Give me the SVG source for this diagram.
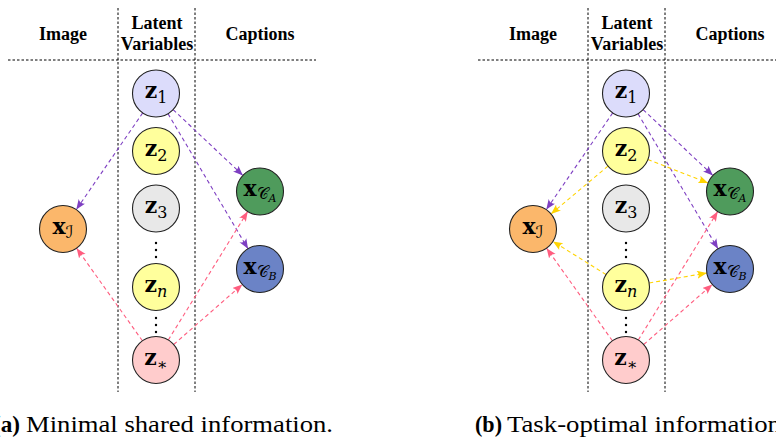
<svg xmlns="http://www.w3.org/2000/svg" width="776" height="439" viewBox="0 0 776 439">
<defs>
<marker id="ap" markerUnits="userSpaceOnUse" markerWidth="11" markerHeight="9" refX="10" refY="4" orient="auto"><path d="M0,0 Q3.5,4 0,8 L10,4 Z" fill="#7e3fc2"/></marker>
<marker id="ak" markerUnits="userSpaceOnUse" markerWidth="11" markerHeight="9" refX="10" refY="4" orient="auto"><path d="M0,0 Q3.5,4 0,8 L10,4 Z" fill="#ff5d7f"/></marker>
<marker id="ay" markerUnits="userSpaceOnUse" markerWidth="11" markerHeight="9" refX="10" refY="4" orient="auto"><path d="M0,0 Q3.5,4 0,8 L10,4 Z" fill="#ffd400"/></marker>
</defs>
<style>
.hd{font-family:"Liberation Serif",serif;font-weight:bold;font-size:18px;fill:#000;text-anchor:middle}
.sep{stroke:#000;stroke-width:1;stroke-dasharray:2.5 2;fill:none}
.nd{stroke:#222;stroke-width:1.1}
.lb{font-family:"DejaVu Serif",serif;font-size:22px;fill:#000;text-anchor:middle}
.bz{font-weight:bold}
.sb{font-size:16px}
.sc{font-family:"DejaVu Sans","DejaVu Serif",serif;font-size:17px;font-style:italic}
.sc2{font-family:"DejaVu Sans","DejaVu Serif",serif;font-size:16px}
.ss{font-size:11px;font-style:italic}
.e{fill:none;stroke-width:1.1;stroke-dasharray:4 3}
.p{stroke:#7e3fc2;marker-end:url(#ap)}
.k{stroke:#ff5d7f;marker-end:url(#ak)}
.y{stroke:#ffd400;marker-end:url(#ay)}
.dt{fill:#000}
.cap{font-family:"Liberation Serif",serif;font-size:23px;fill:#000}
.z1{fill:#dcdcfb}.z2{fill:#ffff9c}.z3{fill:#e8e8e8}.zs{fill:#ffcccc}
.xi{fill:#fbb76b}.xa{fill:#4f9b5c}.xb{fill:#6b83c6}
</style>

<g id="panel-a-frame">
<text class="hd" x="63" y="40">Image</text>
<text class="hd" x="157" y="29">Latent</text>
<text class="hd" x="157" y="50">Variables</text>
<text class="hd" x="260" y="40">Captions</text>
<line class="sep" x1="118" y1="8" x2="118" y2="392"/>
<line class="sep" x1="195" y1="8" x2="195" y2="392"/>
<line class="sep" x1="8" y1="60" x2="316" y2="60"/>
</g>
<g id="panel-b-frame">
<text class="hd" x="533" y="40">Image</text>
<text class="hd" x="627" y="29">Latent</text>
<text class="hd" x="627" y="50">Variables</text>
<text class="hd" x="730" y="40">Captions</text>
<line class="sep" x1="588" y1="8" x2="588" y2="392"/>
<line class="sep" x1="665" y1="8" x2="665" y2="392"/>
<line class="sep" x1="478" y1="60" x2="776" y2="60"/>
</g>

<g id="connectors">
<line class="e p" x1="142.7" y1="112.9" x2="76.3" y2="209.6"/>
<line class="e p" x1="173.1" y1="109.6" x2="242.9" y2="175.4"/>
<line class="e p" x1="168.0" y1="113.7" x2="248.0" y2="248.8"/>
<line class="e k" x1="142.4" y1="340.8" x2="76.6" y2="248.2"/>
<line class="e k" x1="168.3" y1="340.0" x2="247.7" y2="211.5"/>
<line class="e k" x1="173.7" y1="344.5" x2="242.3" y2="284.5"/>

<line class="e p" x1="612.7" y1="112.9" x2="546.3" y2="209.6"/>
<line class="e p" x1="643.1" y1="109.6" x2="712.9" y2="175.4"/>
<line class="e p" x1="638.0" y1="113.7" x2="718.0" y2="248.8"/>
<line class="e k" x1="612.4" y1="340.8" x2="546.6" y2="248.2"/>
<line class="e k" x1="638.3" y1="340.0" x2="717.7" y2="211.5"/>
<line class="e k" x1="643.7" y1="344.5" x2="712.3" y2="284.5"/>
<line class="e y" x1="608.0" y1="166.1" x2="551.0" y2="213.9"/>
<line class="e y" x1="647.9" y1="159.5" x2="708.1" y2="183.0"/>
<line class="e y" x1="606.1" y1="274.6" x2="552.9" y2="241.4"/>
<line class="e y" x1="649.2" y1="283.0" x2="706.9" y2="273.0"/>
</g>

<g id="a-z1"><circle class="nd z1" cx="156" cy="93.5" r="23.5"/><text class="lb" x="156" y="98"><tspan class="bz">z</tspan><tspan class="sb" dy="5">1</tspan></text></g>
<g id="a-z2"><circle class="nd z2" cx="156" cy="151" r="23.5"/><text class="lb" x="156" y="155.5"><tspan class="bz">z</tspan><tspan class="sb" dy="5">2</tspan></text></g>
<g id="a-z3"><circle class="nd z3" cx="156" cy="208.5" r="23.5"/><text class="lb" x="156" y="213"><tspan class="bz">z</tspan><tspan class="sb" dy="5">3</tspan></text></g>
<g id="a-dots1"><circle class="dt" cx="156" cy="243" r="1.2"/><circle class="dt" cx="156" cy="250" r="1.2"/><circle class="dt" cx="156" cy="257" r="1.2"/></g>
<g id="a-zn"><circle class="nd z2" cx="156" cy="287" r="23.5"/><text class="lb" x="156" y="291.5"><tspan class="bz">z</tspan><tspan class="sb" font-style="italic" dy="5">n</tspan></text></g>
<g id="a-dots2"><circle class="dt" cx="156" cy="318" r="1.2"/><circle class="dt" cx="156" cy="325" r="1.2"/><circle class="dt" cx="156" cy="332" r="1.2"/></g>
<g id="a-zstar"><circle class="nd zs" cx="156" cy="360" r="23.5"/><text class="lb" x="156" y="364.5"><tspan class="bz">z</tspan><tspan class="sb" dy="5">∗</tspan></text></g>
<g id="a-xI"><circle class="nd xi" cx="63" cy="229" r="23.5"/><text class="lb" x="63" y="233.5"><tspan class="bz">x</tspan><tspan class="sc" dy="4">ℐ</tspan></text></g>
<g id="a-xCA"><circle class="nd xa" cx="260" cy="191.5" r="23.5"/><text class="lb" x="260" y="196"><tspan class="bz">x</tspan><tspan class="sc2" dy="3">𝒞</tspan><tspan class="ss" dy="3">A</tspan></text></g>
<g id="a-xCB"><circle class="nd xb" cx="260" cy="269" r="23.5"/><text class="lb" x="260" y="273.5"><tspan class="bz">x</tspan><tspan class="sc2" dy="3">𝒞</tspan><tspan class="ss" dy="3">B</tspan></text></g>

<g id="b-z1"><circle class="nd z1" cx="626" cy="93.5" r="23.5"/><text class="lb" x="626" y="98"><tspan class="bz">z</tspan><tspan class="sb" dy="5">1</tspan></text></g>
<g id="b-z2"><circle class="nd z2" cx="626" cy="151" r="23.5"/><text class="lb" x="626" y="155.5"><tspan class="bz">z</tspan><tspan class="sb" dy="5">2</tspan></text></g>
<g id="b-z3"><circle class="nd z3" cx="626" cy="208.5" r="23.5"/><text class="lb" x="626" y="213"><tspan class="bz">z</tspan><tspan class="sb" dy="5">3</tspan></text></g>
<g id="b-dots1"><circle class="dt" cx="626" cy="243" r="1.2"/><circle class="dt" cx="626" cy="250" r="1.2"/><circle class="dt" cx="626" cy="257" r="1.2"/></g>
<g id="b-zn"><circle class="nd z2" cx="626" cy="287" r="23.5"/><text class="lb" x="626" y="291.5"><tspan class="bz">z</tspan><tspan class="sb" font-style="italic" dy="5">n</tspan></text></g>
<g id="b-dots2"><circle class="dt" cx="626" cy="318" r="1.2"/><circle class="dt" cx="626" cy="325" r="1.2"/><circle class="dt" cx="626" cy="332" r="1.2"/></g>
<g id="b-zstar"><circle class="nd zs" cx="626" cy="360" r="23.5"/><text class="lb" x="626" y="364.5"><tspan class="bz">z</tspan><tspan class="sb" dy="5">∗</tspan></text></g>
<g id="b-xI"><circle class="nd xi" cx="533" cy="229" r="23.5"/><text class="lb" x="533" y="233.5"><tspan class="bz">x</tspan><tspan class="sc" dy="4">ℐ</tspan></text></g>
<g id="b-xCA"><circle class="nd xa" cx="730" cy="191.5" r="23.5"/><text class="lb" x="730" y="196"><tspan class="bz">x</tspan><tspan class="sc2" dy="3">𝒞</tspan><tspan class="ss" dy="3">A</tspan></text></g>
<g id="b-xCB"><circle class="nd xb" cx="730" cy="269" r="23.5"/><text class="lb" x="730" y="273.5"><tspan class="bz">x</tspan><tspan class="sc2" dy="3">𝒞</tspan><tspan class="ss" dy="3">B</tspan></text></g>

<g id="captions">
<text class="cap" x="-7" y="432" font-weight="bold" textLength="27" lengthAdjust="spacingAndGlyphs">(a)</text>
<text class="cap" x="26" y="432" textLength="307" lengthAdjust="spacingAndGlyphs">Minimal shared information.</text>
<text class="cap" x="475" y="432" font-weight="bold" textLength="27" lengthAdjust="spacingAndGlyphs">(b)</text>
<text class="cap" x="507" y="432" textLength="274" lengthAdjust="spacingAndGlyphs">Task-optimal information</text>
</g>
</svg>
